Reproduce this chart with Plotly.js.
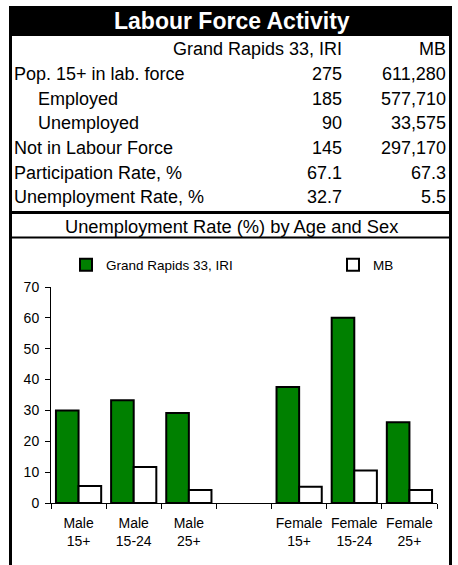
<!DOCTYPE html>
<html>
<head>
<meta charset="utf-8">
<script src="https://cdn.plot.ly/plotly-3.0.1.min.js"></script>
<style>html,body{margin:0;padding:0;background:#fff;}#chart{width:458px;height:565px;}</style>
</head>
<body>
<div id="chart"></div>
<script>
// ---- data ----
var categories = ["Male<br>15+", "Male<br>15-24", "Male<br>25+", " ", "Female<br>15+", "Female<br>15-24", "Female<br>25+"];
var grandRapids = [30.0, 33.3, 29.2, null, 37.6, 60.0, 26.2];
var mb = [5.5, 11.7, 4.2, null, 5.3, 10.5, 4.2];
var seriesNames = ["Grand Rapids 33, IRI", "MB"];

var tableTitle = "Labour Force Activity";
var chartTitle = "Unemployment Rate (%) by Age and Sex";
var rowLabels = ["Pop. 15+ in lab. force", "Employed", "Unemployed", "Not in Labour Force", "Participation Rate, %", "Unemployment Rate, %"];
var rowIndent = [false, true, true, false, false, false];
var colGrandRapids = ["275", "185", "90", "145", "67.1", "32.7"];
var colMB = ["611,280", "577,710", "33,575", "297,170", "67.3", "5.5"];

// ---- geometry helpers (pixel -> paper) ----
var L = 51, R = 437, T = 287, B = 503;
function px(x) { return (x - L) / (R - L); }
function py(y) { return (B - y) / (B - T); }

var FONT = "Liberation Sans, Arial, sans-serif";
var annotations = [];
function txt(x, y, s, anchor, size, color, bold) {
  annotations.push({
    xref: "paper", yref: "paper", x: px(x), y: py(y), text: bold ? "<b>" + s + "</b>" : s,
    xanchor: anchor, yanchor: "middle", showarrow: false, borderpad: 0,
    font: {family: FONT, size: size, color: color || "#000"}
  });
}

txt(232, 21, tableTitle, "center", 23, "#fff", true);
txt(343, 49, seriesNames[0], "right", 18);
txt(447, 49, seriesNames[1], "right", 18);
var rowY = [74, 98.5, 123, 148, 172.5, 197];
for (var i = 0; i < rowLabels.length; i++) {
  txt(rowIndent[i] ? 37 : 13, rowY[i], rowLabels[i], "left", 18);
  txt(343, rowY[i], colGrandRapids[i], "right", 18);
  txt(447, rowY[i], colMB[i], "right", 18);
}
txt(231, 226, chartTitle, "center", 18.3);

function rect(x0, y0, x1, y1, fill) {
  return {type: "rect", xref: "paper", yref: "paper", x0: px(x0), x1: px(x1), y0: py(y0), y1: py(y1),
    fillcolor: fill, line: {width: 0}, layer: "above"};
}
var shapes = [
  rect(9, 6, 452, 36, "#000"),
  rect(9, 6, 12, 565, "#000"),
  rect(449, 6, 452, 565, "#000"),
  rect(9, 211, 452, 214, "#000"),
  rect(9, 236.5, 452, 238.5, "#000")
];

var traces = [
  {type: "bar", name: seriesNames[0], x: categories, y: grandRapids, legend: "legend",
   marker: {color: "#008000", line: {color: "#000", width: 2}}, hoverinfo: "skip"},
  {type: "bar", name: seriesNames[1], x: categories, y: mb, legend: "legend2",
   marker: {color: "#ffffff", line: {color: "#000", width: 2}}, hoverinfo: "skip"}
];

var legendFont = {family: FONT, size: 13.5, color: "#000"};
var layout = {
  width: 458, height: 565, autosize: false,
  margin: {l: L, r: 458 - R, t: T, b: 565 - B, pad: 0},
  paper_bgcolor: "#fff", plot_bgcolor: "#fff",
  font: {family: FONT, color: "#000"},
  barmode: "group", bargap: 0.18, bargroupgap: 0,
  showlegend: true,
  legend: {orientation: "h", x: px(66), y: py(265), xanchor: "left", yanchor: "middle",
    font: legendFont, bgcolor: "rgba(0,0,0,0)"},
  legend2: {orientation: "h", x: px(333), y: py(265), xanchor: "left", yanchor: "middle",
    font: legendFont, bgcolor: "rgba(0,0,0,0)"},
  xaxis: {type: "category", range: [-0.5, 6.5], tickson: "boundaries", ticks: "outside", ticklen: 5,
    tickangle: 0, ticklabelstandoff: 7, tickcolor: "#000", showline: true, linecolor: "#000", linewidth: 1,
    showgrid: false, zeroline: false, tickfont: {family: FONT, size: 14, color: "#000"}, fixedrange: true},
  yaxis: {range: [0, 70], dtick: 10, tick0: 0, ticks: "outside", ticklen: 5, tickcolor: "#000",
    ticklabelstandoff: 3, showline: true, linecolor: "#000", linewidth: 1, showgrid: false, zeroline: false,
    tickfont: {family: FONT, size: 14, color: "#000"}, fixedrange: true},
  shapes: shapes,
  annotations: annotations
};

Plotly.newPlot("chart", traces, layout, {staticPlot: true, displayModeBar: false});
</script>
</body>
</html>
